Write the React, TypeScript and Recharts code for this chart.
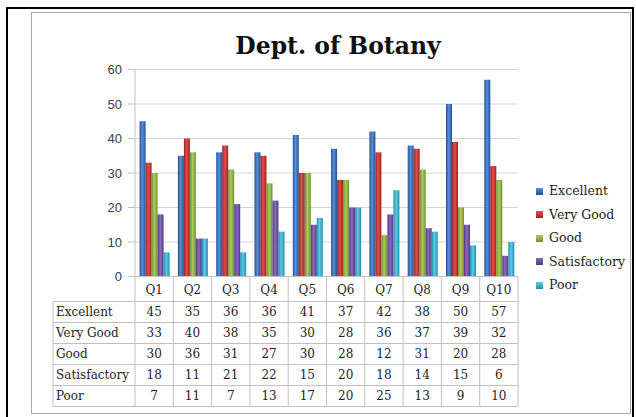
import React from 'react';
import { BarChart, Bar, XAxis, YAxis, CartesianGrid } from 'recharts';

const categories = ['Q1', 'Q2', 'Q3', 'Q4', 'Q5', 'Q6', 'Q7', 'Q8', 'Q9', 'Q10'];
const seriesNames = ['Excellent', 'Very Good', 'Good', 'Satisfactory', 'Poor'];
const excellent = [45, 35, 36, 36, 41, 37, 42, 38, 50, 57];
const veryGood = [33, 40, 38, 35, 30, 28, 36, 37, 39, 32];
const good = [30, 36, 31, 27, 30, 28, 12, 31, 20, 28];
const satisfactory = [18, 11, 21, 22, 15, 20, 18, 14, 15, 6];
const poor = [7, 11, 7, 13, 17, 20, 25, 13, 9, 10];
const yTicks = [0, 10, 20, 30, 40, 50, 60];

const seriesValues = [excellent, veryGood, good, satisfactory, poor];
const seriesKeys = ['excellent', 'veryGood', 'good', 'satisfactory', 'poor'];

const data = categories.map((q, i) => {
  const row: Record<string, any> = { q };
  seriesKeys.forEach((k, s) => {
    row[k] = seriesValues[s][i];
  });
  return row;
});

const COLORS = [
  { edge: '#234f97', mid: '#5a8fd8' },
  { edge: '#9c2320', mid: '#dc4f4a' },
  { edge: '#6f9330', mid: '#a9cb5f' },
  { edge: '#523a80', mid: '#8b6bbb' },
  { edge: '#1f8fae', mid: '#5ccbe4' },
];

const W = 636;
const H = 417;
const PLOT_LEFT = 135;
const PLOT_RIGHT = 518;
const PLOT_TOP = 69.5;
const PLOT_BOTTOM = 276.5;
const X_AXIS_H = 135;
const COL_W = (PLOT_RIGHT - PLOT_LEFT) / categories.length;
const HEADER_H = 25;
const ROW_H = 21;
const LABEL_LEFT = 53;
const LINE = '#c0c0c0';
const SERIF = '"DejaVu Serif", serif';
const TEXT = '#1e1e1e';
const TABLE_FS = 12;

const TableTick = (props: any) => {
  const { x, y, payload } = props;
  const i = props.index ?? payload.index ?? categories.indexOf(payload.value);
  const left = x - COL_W / 2;
  const right = x + COL_W / 2;
  const top = y;
  const bodyTop = top + HEADER_H;
  const bottom = bodyTop + ROW_H * seriesNames.length;
  const els: any[] = [];
  els.push(<line key="vl" x1={left} x2={left} y1={top} y2={bottom} stroke={LINE} />);
  if (i === categories.length - 1) {
    els.push(<line key="vr" x1={right} x2={right} y1={top} y2={bottom} stroke={LINE} />);
  }
  for (let k = 0; k <= seriesNames.length; k++) {
    const yy = bodyTop + k * ROW_H;
    els.push(<line key={'h' + k} x1={left} x2={right} y1={yy} y2={yy} stroke={LINE} />);
  }
  els.push(
    <text key="q" x={x} y={top + HEADER_H / 2 + 1} dy="0.35em" textAnchor="middle" fontFamily={SERIF} fontSize={TABLE_FS} fill={TEXT}>
      {payload.value}
    </text>
  );
  seriesValues.forEach((vals, s) => {
    els.push(
      <text key={'v' + s} x={x} y={bodyTop + s * ROW_H + ROW_H / 2} dy="0.35em" textAnchor="middle" fontFamily={SERIF} fontSize={TABLE_FS} fill={TEXT}>
        {vals[i]}
      </text>
    );
  });
  if (i === 0) {
    els.push(<line key="lv" x1={LABEL_LEFT} x2={LABEL_LEFT} y1={bodyTop} y2={bottom} stroke={LINE} />);
    for (let k = 0; k <= seriesNames.length; k++) {
      const yy = bodyTop + k * ROW_H;
      els.push(<line key={'lh' + k} x1={LABEL_LEFT} x2={left} y1={yy} y2={yy} stroke={LINE} />);
    }
    seriesNames.forEach((name, s) => {
      els.push(
        <text key={'n' + s} x={LABEL_LEFT + 3} y={bodyTop + s * ROW_H + ROW_H / 2} dy="0.35em" textAnchor="start" fontFamily={SERIF} fontSize={TABLE_FS} fill={TEXT}>
          {name}
        </text>
      );
    });
  }
  return <g>{els}</g>;
};

export default function App() {
  return (
    <div style={{ position: 'absolute', left: 0, top: 0, width: W, height: H, background: '#fff', overflow: 'hidden' }}>
      <svg width={0} height={0} style={{ position: 'absolute' }}>
        <defs>
          {COLORS.map((c, s) => (
            <linearGradient key={s} id={'grad' + s} x1="0" y1="0" x2="1" y2="0">
              <stop offset="0%" stopColor={c.edge} />
              <stop offset="45%" stopColor={c.mid} />
              <stop offset="100%" stopColor={c.edge} />
            </linearGradient>
          ))}
        </defs>
      </svg>
      {/* outer black border */}
      <div style={{ position: 'absolute', left: 6, top: 7, width: 628, height: 420, boxSizing: 'border-box', borderTop: '2px solid #000', borderLeft: '2px solid #000', borderRight: '2px solid #000' }} />
      {/* inner gray frame */}
      <div style={{ position: 'absolute', left: 31, top: 12, width: 600, height: 402, boxSizing: 'border-box', border: '1px solid #a8a8a8' }} />
      {/* title */}
      <div style={{ position: 'absolute', left: 208, top: 32, width: 260, textAlign: 'center', fontFamily: '"DejaVu Serif", serif', fontWeight: 'bold', fontSize: 23.5, lineHeight: '28px', color: '#111' }}>
        Dept. of Botany
      </div>
      <div style={{ position: 'absolute', left: 0, top: 0 }}>
        <BarChart
          width={W}
          height={H}
          data={data}
          margin={{ top: PLOT_TOP, right: W - PLOT_RIGHT, bottom: H - PLOT_BOTTOM - X_AXIS_H, left: 0 }}
          barCategoryGap={4.6}
          barGap={0}
        >
          <CartesianGrid vertical={false} stroke="#d6d6d6" />
          <XAxis
            dataKey="q"
            interval={0}
            height={X_AXIS_H}
            tickLine={false}
            tickSize={0}
            tickMargin={0}
            axisLine={{ stroke: LINE }}
            tick={<TableTick />}
          />
          <YAxis
            width={PLOT_LEFT}
            domain={[0, 60]}
            ticks={yTicks}
            interval={0}
            tickSize={7}
            tickMargin={6}
            axisLine={{ stroke: LINE }}
            tickLine={{ stroke: LINE }}
            tick={{ fontFamily: '"Liberation Sans", Arial, sans-serif', fontSize: 13, fill: '#404040' }}
          />
          {seriesKeys.map((k, s) => (
            <Bar key={k} dataKey={k} name={seriesNames[s]} fill={'url(#grad' + s + ')'} isAnimationActive={false} />
          ))}
        </BarChart>
      </div>
      {/* legend */}
      <div style={{ position: 'absolute', left: 536, top: 179 }}>
        {seriesNames.map((name, s) => (
          <div key={name} style={{ display: 'flex', alignItems: 'center', height: 23.5, fontFamily: SERIF, fontSize: 12.5, color: TEXT }}>
            <span
              style={{
                display: 'inline-block',
                width: 7,
                height: 7,
                marginRight: 6,
                marginTop: 1,
                background: `linear-gradient(to bottom, ${COLORS[s].mid}, ${COLORS[s].edge})`,
              }}
            />
            <span>{name}</span>
          </div>
        ))}
      </div>
    </div>
  );
}
